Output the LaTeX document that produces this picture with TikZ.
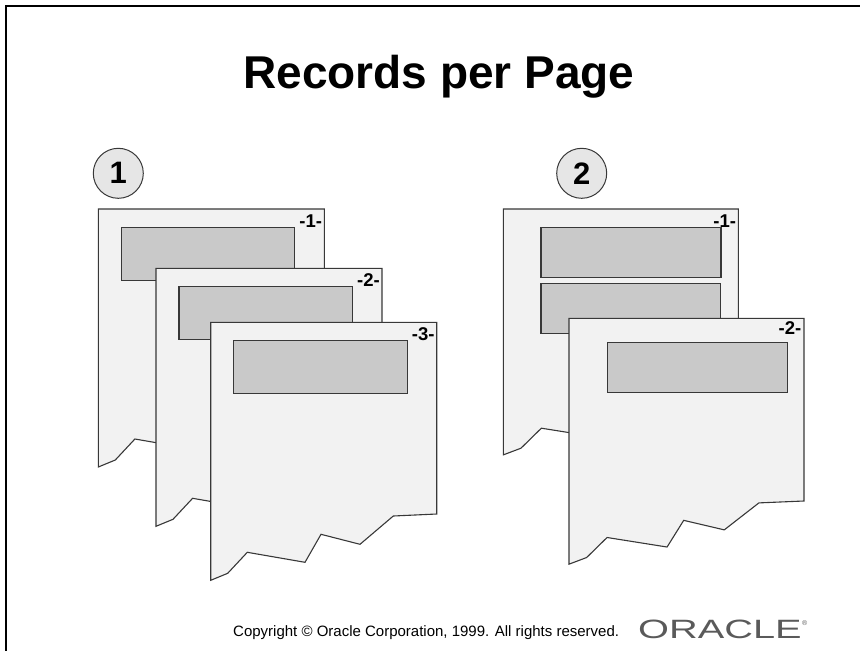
\documentclass[tikz,border=0pt]{standalone}
\usepackage{fontspec}
\setmainfont{Liberation Sans}
\usetikzlibrary{positioning}
\definecolor{sheetfill}{HTML}{F2F2F2}
\definecolor{recordfill}{HTML}{C9C9C9}
\definecolor{badgefill}{HTML}{E6E6E6}
\definecolor{outline}{HTML}{383838}
\definecolor{logogray}{HTML}{5A5A5A}
\tikzset{
  % Common styles for the sheets
  sheet/.style={draw=outline, fill=sheetfill, line width=1.1pt, line join=miter},
  record/.style={draw=outline, fill=recordfill, line width=1.1pt}
}
% torn sheet: #1 top left corner, #2 xscale, #3 yscale
\newcommand{\tornsheet}[3]{%
  \begin{scope}[shift={#1}, xscale=#2, yscale=#3]
    \filldraw[sheet] (0,0) -- (226,0) -- (226,191.7) -- (182.6,193.7) -- (149.3,222)
      -- (110.3,212) -- (94.3,240) -- (36.6,230) -- (17,251) -- (0,258) -- cycle;
  \end{scope}}

\begin{document}
\begin{tikzpicture}[x=1pt, y=-1pt]
    % Define styles
    \tikzstyle{badge} = [circle, draw=outline, fill=badgefill, line width=1pt, minimum size=50pt, inner sep=0pt, font=\fontsize{31}{31}\selectfont\bfseries]
    \tikzstyle{pageno} = [anchor=base east, inner sep=0pt, font=\fontsize{18.5}{18.5}\selectfont\bfseries]
    \tikzstyle{frame} = [draw, line width=2pt]

    \useasboundingbox (0,0) rectangle (860,651);
    \draw[frame] (6,651) -- (6,6) -- (860,6);

    % Title
    \node [anchor=base, inner sep=0pt, font=\fontsize{46}{50}\selectfont\bfseries] (title) at (439,88) {Records per Page};

    % Place nodes - case numbers
    \node [badge] (caseone) at (118.3,173.3) {1};
    \node [badge] (casetwo) at (581.7,173.3) {2};

    % One record per page
    \tornsheet{(98.3,209)}{1}{1}
    \filldraw[record] (121.3,227.5) rectangle (294.8,280.5);
    \node [pageno] (lpone) at (322.3,227) {-1-};

    \tornsheet{(156,268.3)}{1}{1}
    \filldraw[record] (179,286.8) rectangle (352.5,339.8);
    \node [pageno] (lptwo) at (380,286.3) {-2-};

    \tornsheet{(210.7,322.3)}{1}{1}
    \filldraw[record] (233.7,340.8) rectangle (407.2,393.8);
    \node [pageno] (lpthree) at (434.7,340.3) {-3-};

    % Two records per page
    \tornsheet{(503.3,209)}{1.04}{0.953}
    \filldraw[record] (541,227.3) rectangle (721,277.3);
    \filldraw[record] (541,283.3) rectangle (720.5,333.3);
    \node [pageno] (rpone) at (736.3,227) {-1-};

    \tornsheet{(569,318.3)}{1.04}{0.953}
    \filldraw[record] (607.3,342.3) rectangle (787.7,392.7);
    \node [pageno] (rptwo) at (801.5,334.3) {-2-};

    % Footer
    \node [anchor=base west, inner sep=0pt, font=\fontsize{15}{18}\selectfont] (copyright) at (233,636) {Copyright © Oracle Corporation, 1999. All rights reserved.};
    \node [anchor=base west, inner sep=0pt, text=logogray, font=\fontsize{26.5}{28}\selectfont] (logo) at (638,638) {\scalebox{1.5}[1]{ORACLE}};
    \node [anchor=base west, inner sep=0pt, text=logogray, font=\fontsize{7}{7}\selectfont] (regmark) at (logo.east |- 0,625) {®};
\end{tikzpicture}
\end{document}
